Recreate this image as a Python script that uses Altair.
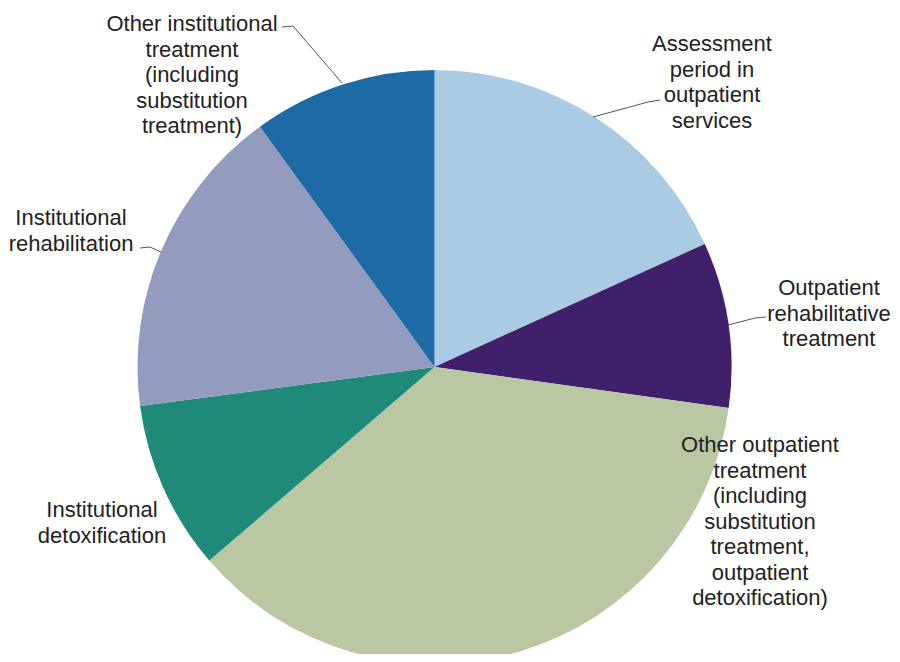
import altair as alt
import pandas as pd

# ---- data (percentages) ----
categories = [
    "Assessment period in outpatient services",
    "Outpatient rehabilitative treatment",
    "Other outpatient treatment (including substitution treatment, outpatient detoxification)",
    "Institutional detoxification",
    "Institutional rehabilitation",
    "Other institutional treatment (including substitution treatment)",
]
values = [18.2, 9.0, 36.5, 9.2, 17.1, 10.0]
label_lines = [
    "Assessment\nperiod in\noutpatient\nservices",
    "Outpatient\nrehabilitative\ntreatment",
    "Other outpatient\ntreatment\n(including\nsubstitution\ntreatment,\noutpatient\ndetoxification)",
    "Institutional\ndetoxification",
    "Institutional\nrehabilitation",
    "Other institutional\ntreatment\n(including\nsubstitution\ntreatment)",
]
colors = ["#A9CCE4", "#41206B", "#B9C7A3", "#1F8A7A", "#939BBF", "#1D6AA5"]

# ---- layout (page pixel positions; page margin is 8px) ----
OFF = 8
CX, CY, R = 434.5, 367, 297
label_pos = [(712, 44), (829, 288), (760, 445), (102, 510), (71, 218), (192, 24)]  # first-line centres
leaders = [  # (x1, y1, x2, y2)
    (282, 27, 293, 26), (293, 26, 342, 83),
    (140, 248, 150, 247), (150, 247, 161, 252),
    (593, 117, 648, 102), (648, 102, 660, 100),
    (728, 325, 755, 318), (755, 318, 766, 317),
]

pie_df = pd.DataFrame({
    "category": categories,
    "value": values,
    "order": list(range(len(categories))),
})
lab_df = pd.DataFrame({
    "text": label_lines,
    "x": [p[0] - OFF for p in label_pos],
    "y": [p[1] - OFF for p in label_pos],
})
lead_df = pd.DataFrame({
    "x": [l[0] - OFF for l in leaders],
    "y": [l[1] - OFF for l in leaders],
    "x2": [l[2] - OFF for l in leaders],
    "y2": [l[3] - OFF for l in leaders],
})

pie = alt.Chart(pie_df).mark_arc(outerRadius=R, stroke=None).encode(
    theta=alt.Theta("value:Q", stack=True),
    order=alt.Order("order:Q"),
    color=alt.Color("category:N", scale=alt.Scale(domain=categories, range=colors), legend=None),
    x=alt.value(CX - OFF),
    y=alt.value(CY - OFF),
)

lead = alt.Chart(lead_df).mark_rule(color="#555555", strokeWidth=1).encode(
    x=alt.X("x:Q", scale=None),
    y=alt.Y("y:Q", scale=None),
    x2="x2:Q",
    y2="y2:Q",
)

labels = alt.Chart(lab_df).mark_text(
    lineBreak="\n", font="Liberation Sans", fontSize=22, lineHeight=25.5,
    align="center", baseline="middle", color="#222222",
).encode(
    x=alt.X("x:Q", scale=None),
    y=alt.Y("y:Q", scale=None),
    text="text:N",
)

chart = alt.layer(pie, lead, labels).properties(
    width=884, height=646, padding=0, autosize=alt.AutoSizeParams(type="none"),
).configure_view(stroke=None)

chart.save("out.html", embed_options={"renderer": "svg", "actions": False})
